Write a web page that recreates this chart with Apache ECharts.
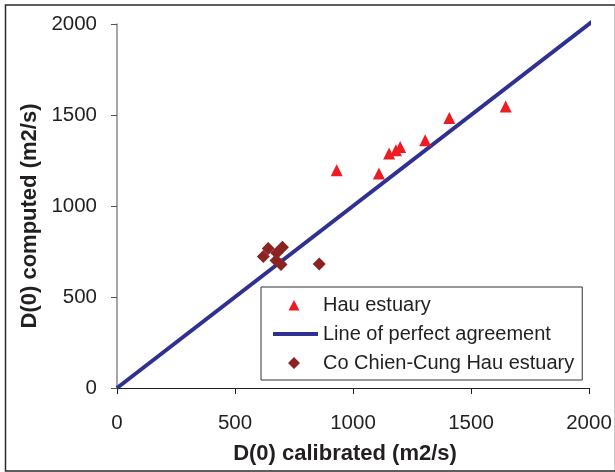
<!DOCTYPE html>
<html>
<head>
<meta charset="utf-8">
<script src="https://cdn.jsdelivr.net/npm/echarts@6/dist/echarts.min.js"></script>
<style>
html,body{margin:0;padding:0;background:#fff;}
#chart{width:615px;height:472px;}
</style>
</head>
<body>
<div id="chart"></div>
<script>
// Data
var hauCalibrated = [931, 1110, 1153, 1182, 1200, 1306, 1408, 1647];
var hauComputed   = [1196, 1179, 1289, 1306, 1324, 1361, 1484, 1547];
var coChienCalibrated = [620, 641, 677, 701, 674, 695, 857];
var coChienComputed   = [723, 766, 742, 773, 700, 678, 682];
var perfectLineX = [0, 2030];
var perfectLineY = [0, 2030];
var axisTicks = [0, 500, 1000, 1500, 2000];

function zip(a, b) { return a.map(function (v, i) { return [v, b[i]]; }); }
function plain(v) { return String(v); }

// legend icons drawn inside a full 45x12 box so they are not stretched
var iconTriangle = 'path://M0,0 L0,0 Z M45,12 L45,12 Z M15.5,11.5 L21,1 L26.5,11.5 Z';
var iconLine = 'path://M0,0 L0,0 Z M45,12 L45,12 Z M0,4 L45,4 L45,8 L0,8 Z';
var iconDiamond = 'path://M0,0 L0,0 Z M45,12 L45,12 Z M21,0 L27,6 L21,12 L15,6 Z';

var chart = echarts.init(document.getElementById('chart'));
var font = 'Liberation Sans, Arial, sans-serif';
chart.setOption({
  animation: false,
  backgroundColor: '#fff',
  textStyle: { fontFamily: font },
  graphic: [{
    type: 'rect',
    shape: { x: 5.5, y: 5, width: 610, height: 466 },
    style: { fill: 'none', stroke: '#2a2a2a', lineWidth: 1.5 },
    z: -1
  }],
  grid: { left: 117, right: 26, top: 24, bottom: 84, containLabel: false },
  xAxis: {
    type: 'value',
    min: axisTicks[0], max: axisTicks[axisTicks.length - 1], interval: 500,
    name: 'D(0) calibrated (m2/s)',
    nameLocation: 'middle',
    nameGap: 55,
    nameTextStyle: { fontSize: 22, fontWeight: 'bold', color: '#231f20', fontFamily: font, padding: [0, 16, 0, 0] },
    axisLine: { onZero: false, lineStyle: { color: '#231f20', width: 1.2 } },
    axisTick: { inside: false, length: 6, lineStyle: { color: '#231f20' } },
    axisLabel: { fontSize: 20.5, color: '#231f20', margin: 25, fontFamily: font, formatter: plain },
    splitLine: { show: false }
  },
  yAxis: {
    type: 'value',
    min: axisTicks[0], max: axisTicks[axisTicks.length - 1], interval: 500,
    name: 'D(0) computed (m2/s)',
    nameLocation: 'middle',
    nameGap: 75,
    nameTextStyle: { fontSize: 22, fontWeight: 'bold', color: '#231f20', fontFamily: font, padding: [0, 20, 0, 0] },
    axisLine: { onZero: false, lineStyle: { color: '#8a8a8a', width: 1.5 } },
    axisTick: { inside: false, length: 6, lineStyle: { color: '#555' } },
    axisLabel: { fontSize: 20.5, color: '#231f20', margin: 20, fontFamily: font, formatter: plain },
    splitLine: { show: false }
  },
  legend: {
    orient: 'vertical',
    left: 261, top: 287,
    padding: [8, 8, 7, 12],
    itemGap: 9,
    itemWidth: 45,
    itemHeight: 12,
    backgroundColor: '#fff',
    borderColor: '#333',
    borderWidth: 1,
    borderRadius: 0,
    textStyle: { fontSize: 20, color: '#231f20', fontFamily: font },
    data: [
      { name: 'Hau estuary', icon: iconTriangle },
      { name: 'Line of perfect agreement', icon: iconLine },
      { name: 'Co Chien-Cung Hau estuary', icon: iconDiamond }
    ]
  },
  series: [
    {
      name: 'Line of perfect agreement',
      type: 'line',
      data: zip(perfectLineX, perfectLineY),
      showSymbol: false,
      symbol: 'none',
      clip: false,
      lineStyle: { color: '#2E3192', width: 4 },
      itemStyle: { color: '#2E3192' },
      z: 1
    },
    {
      name: 'Hau estuary',
      type: 'scatter',
      symbol: 'triangle',
      symbolSize: 12,
      data: zip(hauCalibrated, hauComputed),
      itemStyle: { color: '#ED1C24', opacity: 1 },
      z: 3
    },
    {
      name: 'Co Chien-Cung Hau estuary',
      type: 'scatter',
      symbol: 'diamond',
      symbolSize: 13,
      data: zip(coChienCalibrated, coChienComputed),
      itemStyle: { color: '#8B2323', opacity: 1 },
      z: 3
    }
  ]
});
</script>
</body>
</html>
